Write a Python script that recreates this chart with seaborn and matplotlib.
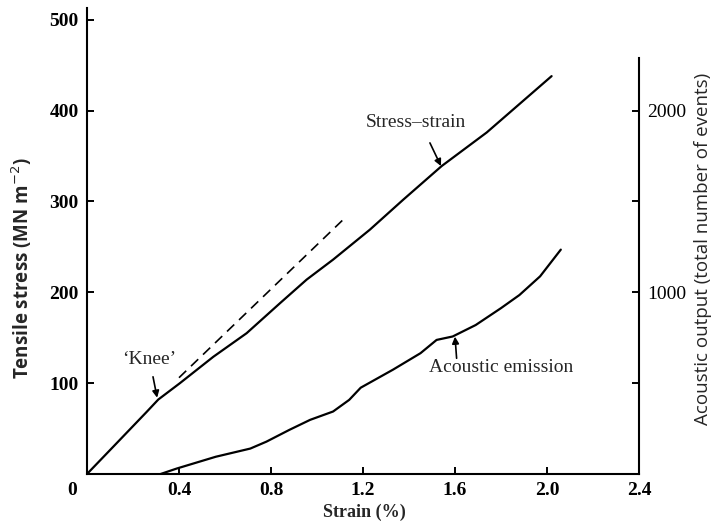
import matplotlib
matplotlib.use("Agg")
import matplotlib.pyplot as plt
import matplotlib.transforms as mtransforms
import seaborn as sns
import pandas as pd

# ---- data ----
ss_strain = [0, 0.114, 0.258, 0.31, 0.404, 0.549, 0.694, 0.839, 0.955, 1.07, 1.23, 1.375, 1.542, 1.738, 2.02]
ss_stress = [0, 30, 68, 82, 100, 129, 155, 188, 214, 236, 269, 302, 339, 376, 438]

ae_strain = [0.32, 0.39, 0.56, 0.71, 0.78, 0.88, 0.97, 1.07, 1.14, 1.19, 1.33, 1.45, 1.52, 1.59, 1.69, 1.80, 1.88, 1.97, 2.06]
ae_events = [0, 30, 95, 140, 178, 243, 298, 344, 408, 475, 574, 665, 738, 757, 820, 913, 985, 1088, 1235]

dash_strain = [0.40, 1.13]
dash_stress = [106, 284]

x_ticks = [0, 0.4, 0.8, 1.2, 1.6, 2.0, 2.4]
x_tick_labels = ["0", "0.4", "0.8", "1.2", "1.6", "2.0", "2.4"]
y_ticks = [100, 200, 300, 400, 500]
y2_ticks = [500, 1000, 1500, 2000]
y2_tick_labels = ["", "1000", "", "2000"]

df_ss = pd.DataFrame({"strain": ss_strain, "stress": ss_stress})
df_ae = pd.DataFrame({"strain": ae_strain, "events": ae_events})
df_dash = pd.DataFrame({"strain": dash_strain, "stress": dash_stress})

sns.set_style("ticks")
plt.rcParams["font.family"] = ["Liberation Serif", "DejaVu Serif"]

fig = plt.figure(figsize=(7.14, 5.24), dpi=100)
ax = fig.add_axes([87 / 714, 50 / 524, 552 / 714, 466 / 524])
ax2 = ax.twinx()
ax2.set_position(ax.get_position())

YTOP = 513
ax.set_xlim(0, 2.4)
ax.set_ylim(0, YTOP)
ax2.set_ylim(0, YTOP * 5)

lw = 1.6
sns.lineplot(data=df_ss, x="strain", y="stress", ax=ax, color="black", lw=lw, sort=False)
sns.lineplot(data=df_dash, x="strain", y="stress", ax=ax, color="black", lw=1.2,
             linestyle=(0, (6, 4)), sort=False)
sns.lineplot(data=df_ae, x="strain", y="events", ax=ax2, color="black", lw=lw, sort=False)

# spines
for a in (ax, ax2):
    a.spines["top"].set_visible(False)
ax.spines["right"].set_visible(False)
ax2.spines["left"].set_visible(False)
ax2.spines["bottom"].set_visible(False)
ax2.spines["right"].set_bounds(0, 2290)
for sp in ("left", "bottom"):
    ax.spines[sp].set_linewidth(1.5)
    ax.spines[sp].set_color("black")
ax2.spines["right"].set_linewidth(1.5)
ax2.spines["right"].set_color("black")

# ticks
ax.set_xticks(x_ticks)
ax.set_xticklabels(x_tick_labels)
ax.set_yticks(y_ticks)
ax.set_yticklabels([str(v) for v in y_ticks])
ax.tick_params(axis="both", direction="in", length=5, width=1.4, pad=6, labelsize=14, colors="black")
for lab in ax.get_xticklabels() + ax.get_yticklabels():
    lab.set_fontweight("bold")
ax2.set_yticks(y2_ticks)
ax2.set_yticklabels(y2_tick_labels)
ax2.tick_params(axis="y", direction="in", length=5, width=1.4, pad=6, labelsize=14, colors="black")

# shift the origin "0" label left
off = mtransforms.ScaledTranslation(-15 / 100, 0, fig.dpi_scale_trans)
xl = ax.get_xticklabels()
xl[0].set_transform(xl[0].get_transform() + off)

ax.set_xlabel("")
ax.set_ylabel("")
ax2.set_ylabel("")

# axis titles
fig.text(364 / 714, 1 - 512 / 524, "Strain (%)", ha="center", va="center",
         fontsize=13, fontweight="bold")
fig.text(22 / 714, 1 - 268 / 524, r"Tensile stress (MN m$^{-2}$)", ha="center", va="center",
         rotation=90, fontsize=13.5, fontweight="bold", family=["Open Sans", "DejaVu Sans"])
fig.text(703 / 714, 1 - 249 / 524, "Acoustic output (total number of events)", ha="center",
         va="center", rotation=90, fontsize=13.5, family=["Open Sans", "DejaVu Sans"])

# annotations
arrow = dict(arrowstyle="-|>", color="black", lw=1.2, mutation_scale=10, shrinkA=0, shrinkB=0)
ax.text(0.27, 125.5, "\u2018Knee\u2019", ha="center", va="center", fontsize=14)
ax.annotate("", xy=(0.305, 84), xytext=(0.287, 107), arrowprops=arrow)

ax.text(1.43, 386.6, "Stress\u2013strain", ha="center", va="center", fontsize=14)
ax.annotate("", xy=(1.539, 339), xytext=(1.491, 364.5), arrowprops=arrow)

ax2.text(1.80, 116.7 * 5, "Acoustic emission", ha="center", va="center", fontsize=14)
ax2.annotate("", xy=(1.60, 756), xytext=(1.607, 637), arrowprops=arrow)

fig.savefig("out.png", dpi=100)
